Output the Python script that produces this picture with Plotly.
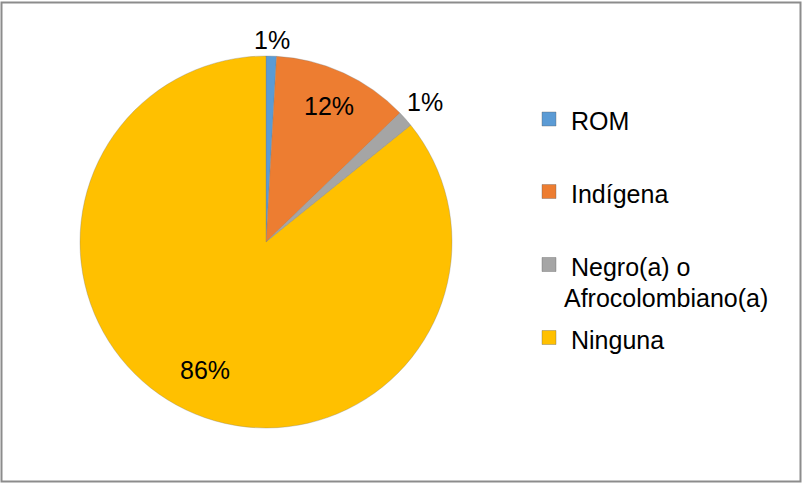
import math
import plotly.graph_objects as go

labels = ["ROM", "Indígena", "Negro(a) o Afrocolombiano(a)", "Ninguna"]
legend_lines = [["ROM"], ["Indígena"], ["Negro(a) o", "Afrocolombiano(a)"], ["Ninguna"]]
values = [0.9, 11.9, 1.4, 85.8]
colors = ["#5B9BD5", "#ED7D31", "#A5A5A5", "#FFC000"]
label_radius_px = [202, 150, 212, 142]  # style: where each data label sits

W, H = 803, 485
FONT = "Liberation Sans, Arial, sans-serif"
CX, CY, R = 266, 242, 186

fig = go.Figure()
fig.add_trace(go.Pie(
    labels=labels,
    values=values,
    sort=False,
    direction="clockwise",
    rotation=0,
    marker=dict(colors=colors, line=dict(color="rgba(120,120,120,0.45)", width=0.7)),
    textinfo="none",
    showlegend=False,
    hoverinfo="label+percent",
    domain=dict(x=[(CX - R) / W, (CX + R) / W], y=[1 - (CY + R) / H, 1 - (CY - R) / H]),
))

shapes = []
annotations = []

# data labels derived from the values
total = sum(values)
cum = 0.0
for v, rl in zip(values, label_radius_px):
    mid = (cum + v / 2) / total * 2 * math.pi
    cum += v
    x = CX + rl * math.sin(mid)
    y = CY - rl * math.cos(mid)
    annotations.append(dict(
        xref="paper", yref="paper", x=x / W, y=1 - y / H,
        xanchor="center", yanchor="middle", showarrow=False,
        text=f"{round(v / total * 100):.0f}%",
        font=dict(family=FONT, size=25, color="#000000"),
    ))

# manual legend (Excel-like fixed slots)
slot_y = [119, 191.5, 264.5, 337.5]
sq = 14
for i, lines in enumerate(legend_lines):
    yc = slot_y[i]
    shapes.append(dict(
        type="rect", xref="paper", yref="paper",
        x0=542 / W, x1=(542 + sq) / W,
        y0=1 - (yc + sq / 2) / H, y1=1 - (yc - sq / 2) / H,
        fillcolor=colors[i], line=dict(color="rgba(90,90,90,0.5)", width=0.7),
    ))
    for j, line in enumerate(lines):
        annotations.append(dict(
            xref="paper", yref="paper", x=(569 - 7 * j) / W, y=1 - (yc - 14 + 31 * j) / H,
            xanchor="left", yanchor="top", align="left", showarrow=False,
            text=line, font=dict(family=FONT, size=25, color="#000000"),
        ))

# outer border
shapes.append(dict(type="rect", xref="paper", yref="paper",
                   x0=1.5 / W, x1=800.5 / W, y0=1 - 481.5 / H, y1=1 - 2.5 / H,
                   line=dict(color="#8C8C8C", width=2), fillcolor="rgba(0,0,0,0)"))

fig.update_layout(
    width=W, height=H,
    margin=dict(l=0, r=0, t=0, b=0),
    paper_bgcolor="white", plot_bgcolor="white",
    shapes=shapes, annotations=annotations,
    font=dict(family=FONT),
)
fig.write_html("out.html", config={"displayModeBar": False},
               post_script="document.body.style.margin='0';document.body.style.overflow='hidden';")
